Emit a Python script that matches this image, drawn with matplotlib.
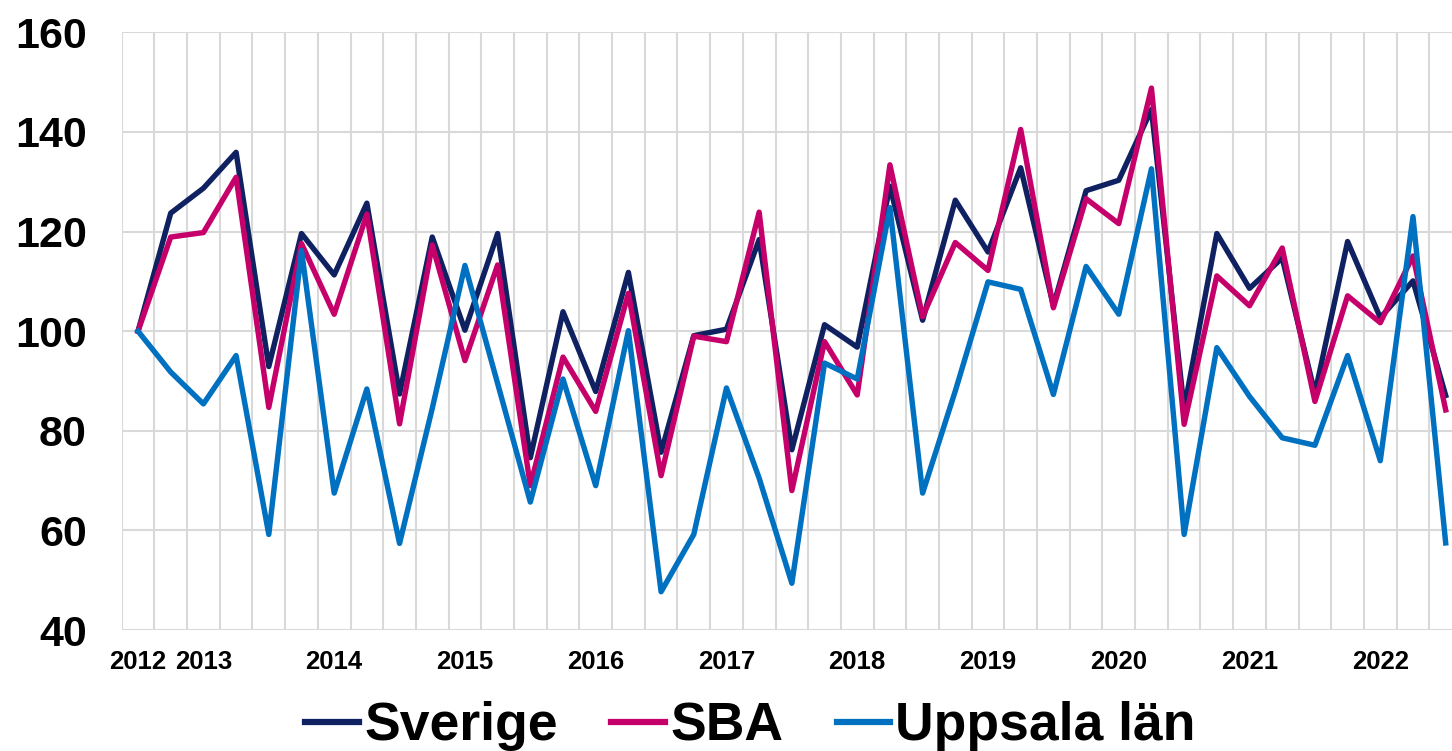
import matplotlib
matplotlib.use('Agg')
import matplotlib.pyplot as plt
import numpy as np

plt.rcParams['font.family'] = ['Liberation Sans', 'DejaVu Sans']
plt.rcParams['font.weight'] = 'bold'

# index values per quarter, 41 points
sverige = [100, 123.7, 128.7, 135.9, 92.9, 119.6, 111.3, 125.7, 87.4, 118.9,
           100.2, 119.6, 74.6, 103.9, 87.9, 111.8, 75.7, 99.1, 100.4, 118.4,
           76.2, 101.3, 96.8, 129.1, 102.2, 126.3, 115.9, 132.8, 105.1, 128.2,
           130.3, 144.5, 84.4, 119.6, 108.6, 114.7, 87.5, 118.0, 102.7, 110.1,
           87.1]
sba = [100, 118.9, 119.8, 130.9, 84.7, 117.6, 103.4, 123.5, 81.4, 117.3,
       94.1, 113.3, 69.0, 94.8, 83.9, 107.6, 71.0, 99.0, 97.9, 123.9,
       68.0, 97.9, 87.2, 133.4, 102.9, 117.8, 112.2, 140.5, 104.7, 126.6,
       121.6, 148.8, 81.3, 111.1, 105.1, 116.7, 85.9, 107.1, 101.7, 115.1,
       84.2]
uppsala = [100, 91.8, 85.4, 95.1, 59.2, 116.2, 67.5, 88.4, 57.4, 84.5,
           113.2, 89.5, 65.7, 90.4, 69.0, 100.1, 47.7, 59.2, 88.6, 70.5,
           49.4, 93.6, 90.4, 124.8, 67.5, 88.0, 109.9, 108.4, 87.3, 113.0,
           103.4, 132.6, 59.2, 96.7, 86.9, 78.6, 77.1, 95.1, 74.0, 123.0,
           57.5]

year_labels = ['2012', '2013', '2014', '2015', '2016', '2017', '2018',
               '2019', '2020', '2021', '2022']
year_idx = [0, 2, 6, 10, 14, 18, 22, 26, 30, 34, 38]

x = np.arange(len(sverige))

fig = plt.figure(figsize=(14.52, 7.51), dpi=100)
ax = fig.add_axes([0.0838, 0.161, 1.0069 - 0.0838, 0.957 - 0.161])

ax.plot(x, sverige, color='#0f2161', lw=3.9, label='Sverige', zorder=3)
ax.plot(x, sba, color='#c6006b', lw=3.9, label='SBA', zorder=4)
ax.plot(x, uppsala, color='#0070c0', lw=3.9, label='Uppsala län', zorder=5)

ax.set_xlim(-0.5, len(x) - 0.5)
ax.set_ylim(40, 160)
ax.set_yticks(np.arange(40, 161, 20))
ax.set_xticks(year_idx)
ax.set_xticklabels(year_labels)
ax.set_xticks(np.arange(-0.5, len(x), 1), minor=True)

ax.grid(axis='y', which='major', color='#d9d9d9', lw=1.5)
ax.grid(axis='x', which='minor', color='#d9d9d9', lw=1.5)
ax.set_axisbelow(True)
for s in ax.spines.values():
    s.set_visible(False)

ax.tick_params(axis='y', length=0, pad=25, labelsize=31)
ax.tick_params(axis='x', which='both', length=0, pad=14, labelsize=18.5)
for lab in ax.get_xticklabels() + ax.get_yticklabels():
    lab.set_fontweight('bold')

leg = fig.legend(loc='center', bbox_to_anchor=(0.517, 0.033), ncol=3,
                 frameon=False, prop={'size': 38.5, 'weight': 'bold'},
                 handlelength=1.0, handletextpad=0.1, columnspacing=1.0)
for h in leg.get_lines():
    h.set_linewidth(4.5)

fig.savefig('out.png', dpi=100)
